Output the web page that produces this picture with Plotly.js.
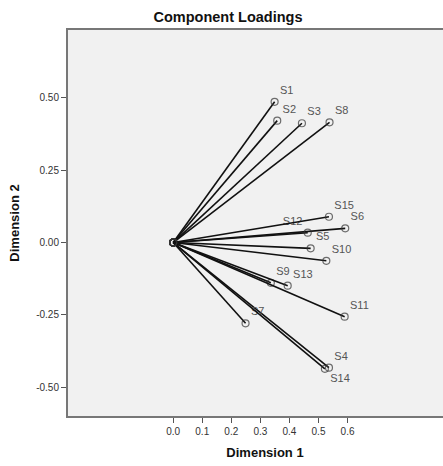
<!DOCTYPE html>
<html><head><meta charset="utf-8">
<script src="https://cdn.plot.ly/plotly-3.0.1.min.js"></script>
<style>html,body{margin:0;padding:0;background:#fff;overflow:hidden;}#chart{width:462px;height:466px;}</style>
</head><body><div id="chart"></div>
<script>
var labels = ["S1","S2","S3","S4","S5","S6","S7","S8","S9","S10","S11","S12","S13","S14","S15"];
var dim1 = [0.349,0.358,0.443,0.536,0.473,0.592,0.249,0.538,0.336,0.527,0.590,0.463,0.394,0.522,0.536];
var dim2 = [0.486,0.421,0.412,-0.432,-0.020,0.049,-0.279,0.415,-0.139,-0.063,-0.256,0.034,-0.149,-0.436,0.089];
var labelPos = {"S12":"top left","S14":"bottom right"};
var xTicks = [0,0.1,0.2,0.3,0.4,0.5,0.6];
var yTicks = [0.5,0.25,0,-0.25,-0.5];

var FONT = "Liberation Sans, Arial, sans-serif";
var W = 462;
var traces = [];
labels.forEach(function(lab,i){
  traces.push({
    x:[0,dim1[i]], y:[0,dim2[i]], mode:"lines+markers+text",
    line:{color:"#111",width:1.6},
    marker:{symbol:"circle-open",size:[7,7],color:"#333",line:{width:1.2}},
    text:["",lab], textposition:labelPos[lab]||"top right",
    textfont:{family:FONT,size:11,color:"#555"},
    hoverinfo:"skip", showlegend:false, cliponaxis:false
  });
});

var layout = {
  width:W, height:466,
  margin:{l:68,r:0,t:30,b:50},
  paper_bgcolor:"#ffffff", plot_bgcolor:"#f1f1f1",
  font:{family:FONT,size:11,color:"#333"},
  title:{text:"<b>Component Loadings</b>", font:{family:FONT,size:14.5,color:"#111"},
    x:228/W, xref:"container", xanchor:"center", y:1-17/466, yref:"container", yanchor:"middle"},
  xaxis:{range:[-0.362,-0.362+(W-68)/290.6], tickvals:xTicks, ticktext:xTicks.map(function(v){return v.toFixed(1);}),
    ticks:"outside", ticklen:5, tickcolor:"#555", tickwidth:1, showgrid:false, zeroline:false,
    showline:true, linecolor:"#777", linewidth:2, mirror:true,
    tickfont:{family:FONT,size:10,color:"#333"},
    title:{text:"<b>Dimension 1</b>", font:{family:FONT,size:13,color:"#111"}, standoff:12}},
  yaxis:{range:[-0.599,0.734], tickvals:yTicks, ticktext:yTicks.map(function(v){return v.toFixed(2);}),
    ticks:"outside", ticklen:5, tickcolor:"#555", tickwidth:1, showgrid:false, zeroline:false,
    showline:true, linecolor:"#777", linewidth:2, mirror:false,
    tickfont:{family:FONT,size:10,color:"#333"},
    title:{text:"<b>Dimension 2</b>", font:{family:FONT,size:13,color:"#111"}, standoff:14}}
};
Plotly.newPlot("chart", traces, layout, {displayModeBar:false, staticPlot:true});
</script></body></html>
